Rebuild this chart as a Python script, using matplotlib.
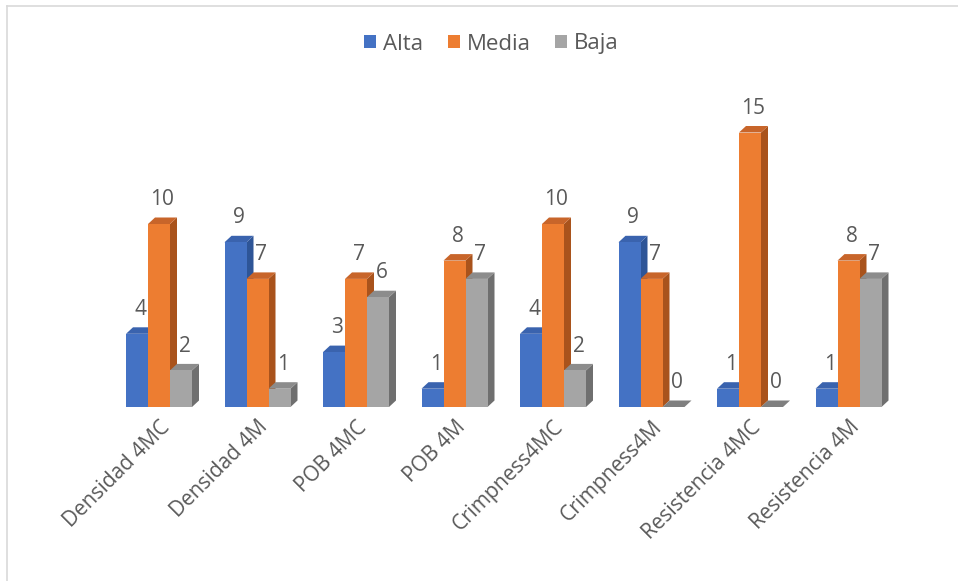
"""
Clustered 3D-style column chart: Alta / Media / Baja per test
"""

import matplotlib.pyplot as plt
import numpy as np
from matplotlib.patches import Polygon
from matplotlib.lines import Line2D
from matplotlib.patches import Patch

# data
categories = ['Densidad 4MC', 'Densidad 4M', 'POB 4MC', 'POB 4M',
              'Crimpness4MC', 'Crimpness4M', 'Resistencia 4MC', 'Resistencia 4M']
series_names = ['Alta', 'Media', 'Baja']
alta = [4, 9, 3, 1, 4, 9, 1, 1]
media = [10, 7, 7, 8, 10, 7, 15, 8]
baja = [2, 1, 6, 7, 2, 0, 0, 7]

# colours: front, side, top
front_cols = ['#4472C4', '#ED7D31', '#A5A5A5']
side_cols = ['#2E5597', '#A9531C', '#6F6F6F']
top_cols = ['#3A63AE', '#C8652A', '#8C8C8C']
text_col = '#595959'

plt.rcParams['font.family'] = ['Open Sans', 'DejaVu Sans']

W, H = 958, 581
fig = plt.figure(figsize=(W / 100, H / 100), dpi=100)

# plot area placed in pixels
step_px = 98.5
px_per_unit = 18.3
left_px = 159 - step_px / 2
base_px = 407
ymax = 16
ax = fig.add_axes([left_px / W, 1 - base_px / H,
                   8 * step_px / W, ymax * px_per_unit / H])
ax.set_xlim(-0.5, 7.5)
ax.set_ylim(0, ymax)

bw = 22 / step_px           # bar width in data units
dx = 7 / step_px            # depth offset x
dy = 6.5 / px_per_unit      # depth offset y

x = np.arange(len(categories))
all_vals = [alta, media, baja]

for i, vals in enumerate(all_vals):
    for j, v in enumerate(vals):
        x0 = x[j] + (i - 1.5) * bw
        x1 = x0 + bw
        z = 3 * j + i
        if v > 0:
            ax.bar(x0, v, width=bw, align='edge', color=front_cols[i],
                   zorder=z + 0.3, linewidth=0)
            side = Polygon([(x1, 0), (x1 + dx, dy), (x1 + dx, v + dy), (x1, v)],
                           closed=True, facecolor=side_cols[i], edgecolor='none',
                           zorder=z + 0.2)
            ax.add_patch(side)
        top = Polygon([(x0, v), (x0 + dx, v + dy), (x1 + dx, v + dy), (x1, v)],
                      closed=True, facecolor=top_cols[i] if v > 0 else '#7F7F7F',
                      edgecolor='none', zorder=z + 0.25)
        ax.add_patch(top)
        ax.annotate(str(v), xy=(x0 + bw / 2 + dx / 2, v), xytext=(0, 10),
                    textcoords='offset points', ha='center', va='bottom',
                    fontsize=15, color=text_col, zorder=50)

for s in ax.spines.values():
    s.set_visible(False)
ax.set_yticks([])
ax.set_xticks(x)
ax.set_xticklabels(categories, rotation=45, ha='right', rotation_mode='anchor',
                   fontsize=15, color=text_col)
ax.tick_params(axis='x', length=0, pad=7)

# legend
handles = [Patch(facecolor=c, edgecolor='none') for c in front_cols]
fig.legend(handles, series_names, loc='center', bbox_to_anchor=(0.513, 1 - 44 / H),
           ncol=3, frameon=False, fontsize=16, labelcolor=text_col,
           handlelength=0.55, handleheight=0.55, handletextpad=0.3,
           columnspacing=1.1)

# chart border (top and left visible)
fig.add_artist(Line2D([7 / W, 7 / W], [0, 1 - 6 / H], color='#D9D9D9', lw=1.2))
fig.add_artist(Line2D([7 / W, 1], [1 - 6 / H, 1 - 6 / H], color='#D9D9D9', lw=1.2))

plt.savefig('out.png', dpi=100)
